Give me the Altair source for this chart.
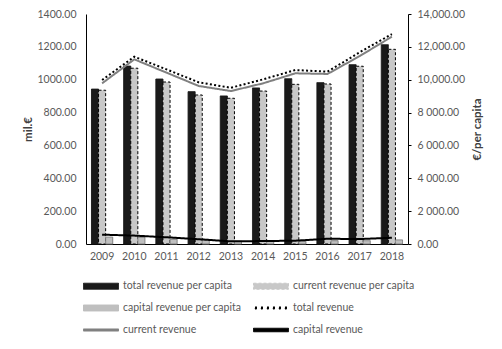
import altair as alt
import pandas as pd

years = ["2009", "2010", "2011", "2012", "2013", "2014", "2015", "2016", "2017", "2018"]

# per-capita series (right axis, €/per capita)
total_pc = [9430, 10830, 10040, 9270, 9010, 9500, 10060, 9820, 10910, 12130]
current_pc = [9360, 10700, 9860, 9070, 8870, 9310, 9720, 9740, 10820, 11850]
capital_pc = [420, 400, 290, 280, 170, 170, 170, 200, 200, 250]

# aggregate series (left axis, mil.€)
total_rev = [998, 1140, 1063, 984, 951, 1002, 1059, 1049, 1167, 1278]
current_rev = [978, 1124, 1043, 962, 931, 978, 1039, 1035, 1144, 1262]
capital_rev = [57, 51, 41, 29, 16, 18, 20, 32, 30, 38]

bar_names = ["total revenue per capita", "current revenue per capita", "capital revenue per capita"]
line_names = ["total revenue", "current revenue", "capital revenue"]
all_names = bar_names + line_names

left_ticks = [0, 200, 400, 600, 800, 1000, 1200, 1400]
right_ticks = [0, 2000, 4000, 6000, 8000, 10000, 12000, 14000]

bar_rows = []
for name, vals in zip(bar_names, [total_pc, current_pc, capital_pc]):
    for y, v in zip(years, vals):
        bar_rows.append({"year": y, "series": name, "value": v})
line_rows = []
for name, vals in zip(line_names, [total_rev, current_rev, capital_rev]):
    for y, v in zip(years, vals):
        line_rows.append({"year": y, "series": name, "value": v})
bars_df = pd.DataFrame(bar_rows)
lines_df = pd.DataFrame(line_rows)

FONT = "Lato"
TXT = "#595959"

color_scale = alt.Scale(domain=all_names,
                        range=["#1a1a1a", "#c8c8c8", "#bfbfbf", "#000000", "#808080", "#000000"])
dash_scale = alt.Scale(domain=all_names,
                       range=[[1, 0], [3, 2], [1, 0], [2, 2.3], [1, 0], [1, 0]])

# legend symbol shapes (custom paths, size 121 -> 5.5 px per unit)
rect = "M-3.18,-0.55H3.18V0.55H-3.18Z"
thin = "M-3.18,-0.2H3.18V0.2H-3.18Z"
thick = "M-3.18,-0.32H3.18V0.32H-3.18Z"
dots = "".join(
    f"M{-2.73 + i * 1.09 - 0.18:.2f},-0.18h0.36v0.36h-0.36Z" for i in range(6)
)


def pick(mapping, default):
    expr = ""
    for k, v in mapping.items():
        expr += f"datum.value === '{k}' ? {v} : "
    return expr + default


shape_expr = pick({
    bar_names[0]: f"'{rect}'", bar_names[1]: f"'{rect}'", bar_names[2]: f"'{rect}'",
    line_names[0]: f"'{dots}'", line_names[1]: f"'{thin}'",
}, f"'{thick}'")
stroke_expr = pick({bar_names[1]: "'#000000'", bar_names[2]: "'#7f7f7f'"}, "'transparent'")
dash_expr = pick({bar_names[1]: "[2, 1.5]"}, "[1, 0]")

legend = alt.Legend(
    title=None, orient="none", legendX=-3, legendY=266, columns=2, direction="horizontal",
    labelFont=FONT, labelFontSize=10.5, labelColor=TXT, labelLimit=0,
    symbolType=alt.ExprRef(expr=shape_expr),
    symbolStrokeColor=alt.ExprRef(expr=stroke_expr),
    symbolDash=alt.ExprRef(expr=dash_expr),
    symbolSize=121, symbolStrokeWidth=1, symbolOffset=12, labelOffset=16,
    symbolOpacity=1,
    columnPadding=9, rowPadding=10, padding=0,
)

x_enc = alt.X(
    "year:N", title=None,
    scale=alt.Scale(paddingInner=0.34, paddingOuter=0.17),
    axis=alt.Axis(labelAngle=0, ticks=False, domainColor="#000000", labelFont=FONT,
                  labelFontSize=10.5, labelColor=TXT, labelPadding=7, grid=False),
)

bars = alt.Chart(bars_df).mark_bar(strokeWidth=1, opacity=1).encode(
    x=x_enc,
    xOffset=alt.XOffset("series:N", scale=alt.Scale(domain=bar_names, paddingInner=0, paddingOuter=0)),
    y=alt.Y("value:Q", scale=alt.Scale(domain=[0, 14000], nice=False),
            axis=alt.Axis(orient="right", values=right_ticks, title="€/per capita",
                          labelExpr="datum.value >= 10000 ? format(datum.value, ',.2f') : replace(format(datum.value, ',.2f'), ',', ' ')",
                          ticks=True, tickSize=3, tickColor="#000000", domainColor="#000000",
                          labelFont=FONT, labelFontSize=10.5, labelColor=TXT, labelPadding=6,
                          titleFont=FONT, titleFontSize=11.5, titleFontWeight="bold", titleColor="#404040",
                          titleAngle=270, titleBaseline="top", titlePadding=7, grid=False)),
    color=alt.Color("series:N", scale=color_scale, legend=legend, sort=all_names),
    stroke=alt.Stroke("series:N", scale=alt.Scale(domain=bar_names, range=["#1a1a1a", "#000000", "#7f7f7f"]), legend=None),
    strokeDash=alt.StrokeDash("series:N", scale=dash_scale, legend=None),
)

lines = alt.Chart(lines_df).mark_line().encode(
    x=alt.X("year:N"),
    y=alt.Y("value:Q", scale=alt.Scale(domain=[0, 1400], nice=False),
            axis=alt.Axis(orient="left", values=left_ticks, format=".2f", title="mil.€",
                          ticks=False, domainColor="#000000",
                          labelFont=FONT, labelFontSize=10.5, labelColor=TXT, labelPadding=10,
                          titleFont=FONT, titleFontSize=11.5, titleFontWeight="bold", titleColor="#404040",
                          titlePadding=3, grid=False)),
    color=alt.Color("series:N", scale=color_scale, legend=legend, sort=all_names),
    strokeDash=alt.StrokeDash("series:N", scale=dash_scale, legend=None),
    strokeWidth=alt.StrokeWidth("series:N", scale=alt.Scale(domain=line_names, range=[2, 2, 2.8]), legend=None),
)

chart = alt.layer(bars, lines).resolve_scale(y="independent").properties(
    width=322, height=230,
    autosize=alt.AutoSizeParams(type="none"),
    padding={"left": 78, "top": 6, "right": 86, "bottom": 95},
).configure_view(stroke=None)

chart.save("out.html", embed_options={"renderer": "svg", "actions": False})
